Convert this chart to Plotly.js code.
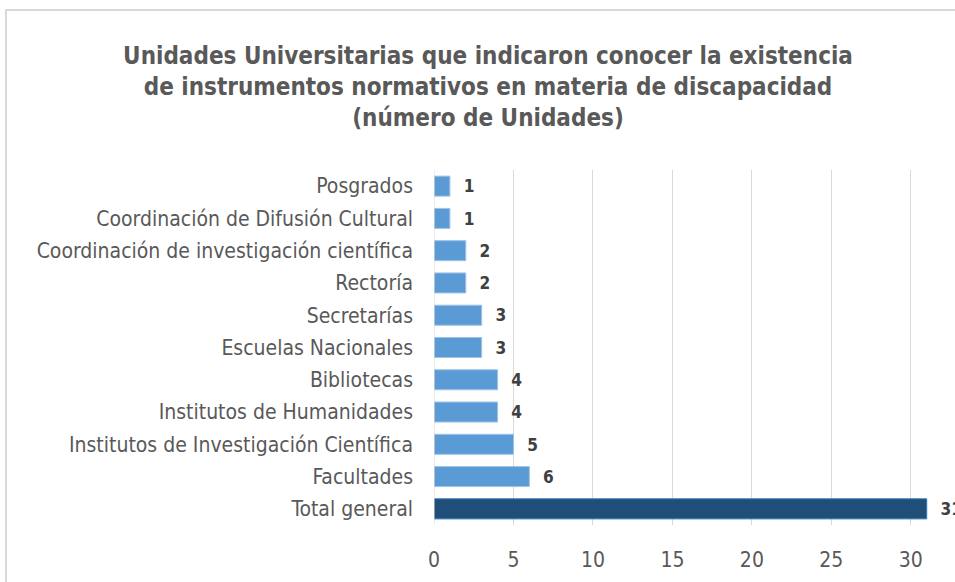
<!DOCTYPE html>
<html>
<head>
<meta charset="utf-8">
<script src="https://cdn.plot.ly/plotly-3.0.1.min.js"></script>
<style>
html,body{margin:0;padding:0;width:955px;height:582px;overflow:hidden;background:#fff;}
#frame{position:absolute;left:5px;top:9px;width:960px;height:580px;border-top:2px solid #d9d9d9;border-left:2px solid #d9d9d9;}
#chart{position:absolute;left:0;top:0;width:955px;height:582px;}
</style>
</head>
<body>
<div id="frame"></div>
<div id="chart"></div>
<script>
const categories = [
  "Posgrados",
  "Coordinación de Difusión Cultural",
  "Coordinación de investigación científica",
  "Rectoría",
  "Secretarías",
  "Escuelas Nacionales",
  "Bibliotecas",
  "Institutos de Humanidades",
  "Institutos de Investigación Científica",
  "Facultades",
  "Total general"
];
const values = [1, 1, 2, 2, 3, 3, 4, 4, 5, 6, 31];
const tickVals = [0, 5, 10, 15, 20, 25, 30];
const titleText = "Unidades Universitarias que indicaron conocer la existencia<br>de instrumentos normativos en materia de discapacidad<br>(número de Unidades)";

const barColors = categories.map(c => c === "Total general" ? "#1f4e79" : "#5b9bd5");
const lineColors = categories.map(c => c === "Total general" ? "#2e75b6" : "#9dc3e6");

const FONT = "'DejaVu Sans Condensed', 'Liberation Sans Narrow', 'Open Sans', sans-serif";

Plotly.newPlot("chart", [{
  type: "bar",
  orientation: "h",
  y: categories,
  x: values,
  marker: {color: barColors, line: {color: lineColors, width: 1}},
  text: values.map(v => String(v)),
  texttemplate: "  %{x}",
  textposition: "outside",
  cliponaxis: false,
  textfont: {family: FONT, size: 18, color: "#404040", weight: "bold"},
  hoverinfo: "skip"
}], {
  width: 955,
  height: 582,
  paper_bgcolor: "rgba(0,0,0,0)",
  plot_bgcolor: "rgba(0,0,0,0)",
  margin: {l: 434, r: 0, t: 170, b: 57, pad: 0},
  bargap: 0.38,
  showlegend: false,
  title: {
    text: titleText,
    font: {family: FONT, size: 24, color: "#595959", weight: "bold"},
    xref: "container", x: 0.511, xanchor: "center",
    yref: "container", y: 0.89, yanchor: "middle"
  },
  xaxis: {
    range: [0, 32.78],
    tickvals: tickVals,
    ticktext: tickVals.map(String),
    showgrid: true,
    gridcolor: "#d9d9d9",
    gridwidth: 1,
    zeroline: false,
    showline: false,
    ticks: "",
    ticklabelstandoff: 20,
    tickfont: {family: FONT, size: 21, color: "#595959"},
    fixedrange: true
  },
  yaxis: {
    type: "category",
    autorange: "reversed",
    showgrid: false,
    zeroline: false,
    showline: false,
    ticks: "",
    ticklabelstandoff: 20,
    tickfont: {family: FONT, size: 21, color: "#595959"},
    fixedrange: true
  },
  shapes: [{
    type: "line", xref: "x", yref: "paper",
    x0: 0, x1: 0, y0: 0, y1: 1,
    line: {color: "#d9d9d9", width: 1}
  }]
}, {displayModeBar: false, staticPlot: true});
</script>
</body>
</html>
